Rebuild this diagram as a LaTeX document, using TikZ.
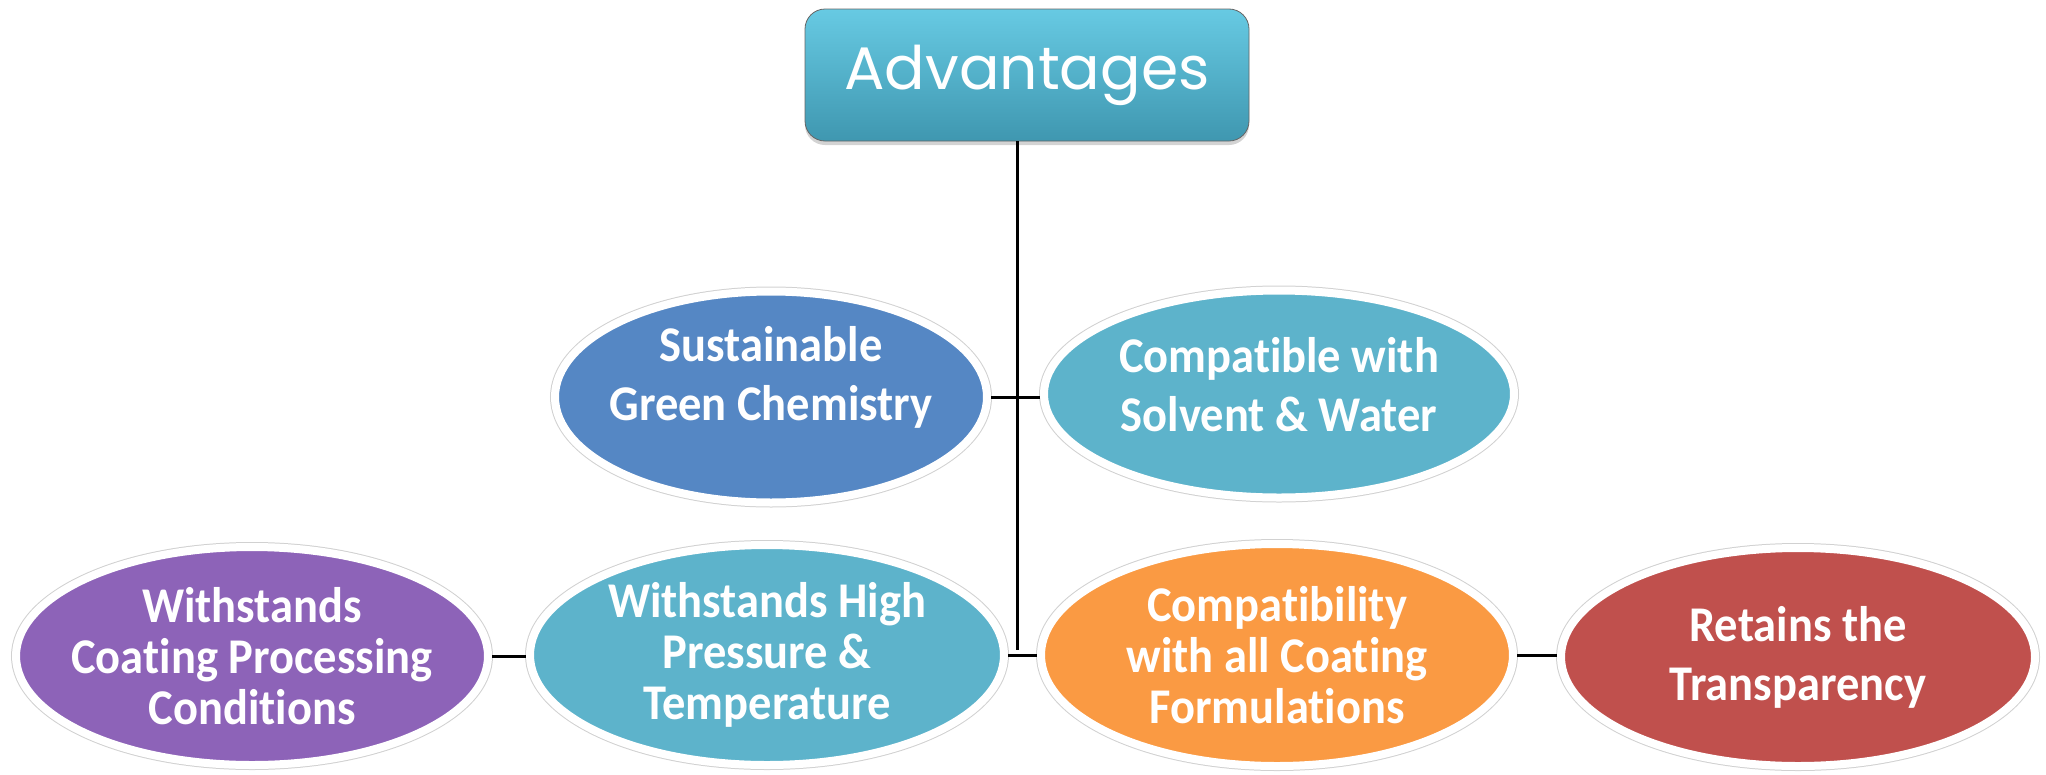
\documentclass[tikz,border=0pt]{standalone}
\usepackage{fontspec}
\setmainfont{Carlito}
\newfontfamily\titlefont{Poppins}
\newfontfamily\bubblefont[FakeStretch=0.93,Ligatures=NoCommon]{Carlito}
\usetikzlibrary{shapes.geometric,shadows}
\definecolor{cblue}{HTML}{5587C4}
\definecolor{caqua}{HTML}{5DB3CB}
\definecolor{cpurple}{HTML}{8D63B8}
\definecolor{corange}{HTML}{FA9A43}
\definecolor{cred}{HTML}{C0504D}
\definecolor{ctop}{HTML}{67CAE3}
\definecolor{cbot}{HTML}{3F97B0}
\tikzset{
  bubble/.style={ellipse, draw=white, line width=8pt, text=white,
    font=\bubblefont\bfseries\fontsize{50}{59}\selectfont, align=center,
    inner sep=-80pt,
    preaction={draw=black!18, line width=10pt},
    drop shadow={shadow xshift=0pt, shadow yshift=-3pt, opacity=0.3, fill=black!50}},
  tight/.style={font=\bubblefont\bfseries\fontsize{50}{51}\selectfont},
  link/.style={line width=3pt, black}
}
\begin{document}
\begin{tikzpicture}[x=1pt,y=-1pt]
\useasboundingbox (0,0) rectangle (2046,774);
% top box
\node[rounded corners=20pt, minimum width=444pt, minimum height=132pt,
  top color=ctop, bottom color=cbot, draw=black!60, line width=0.8pt,
  drop shadow={shadow xshift=0pt, shadow yshift=-4pt, opacity=0.35},
  text=white, font=\titlefont\fontsize{60}{60}\selectfont]
  (top) at (1027,75) {Advantages};
% bubbles
\node[bubble, fill=cblue, minimum width=432pt, minimum height=211pt] (e1) at (771,397) {Sustainable\\Green Chemistry\\[-12pt]\mbox{}};
\node[bubble, fill=caqua, minimum width=470pt, minimum height=207pt] (e2) at (1279,394) {Compatible with\\Solvent \& Water\\[-40pt]\mbox{}};
\node[bubble, tight, fill=cpurple, minimum width=472pt, minimum height=218pt] (e3) at (252,656) {Withstands\\Coating Processing\\Conditions};
\node[bubble, tight, fill=caqua, minimum width=474pt, minimum height=220pt] (e4) at (767,655) {Withstands High\\Pressure \&\\Temperature};
\node[bubble, tight, fill=corange, minimum width=472pt, minimum height=222pt] (e5) at (1277,655) {Compatibility\\with all Coating\\Formulations};
\node[bubble, fill=cred, minimum width=474pt, minimum height=218pt] (e6) at (1798,657) {Retains the\\Transparency};
% connectors
\coordinate (vtop) at (1017,141);
\coordinate (vend) at (1017,650);
\draw[link] (vtop) -- (vend);
\draw[link] (e1.east) -- (e1.east -| e2.west);
\draw[link] (e4.east) -- (e4.east -| e5.west);
\draw[link] (e3.east) -- (e3.east -| e4.west);
\draw[link] (e5.east) -- (e5.east -| e6.west);
\end{tikzpicture}
\end{document}
